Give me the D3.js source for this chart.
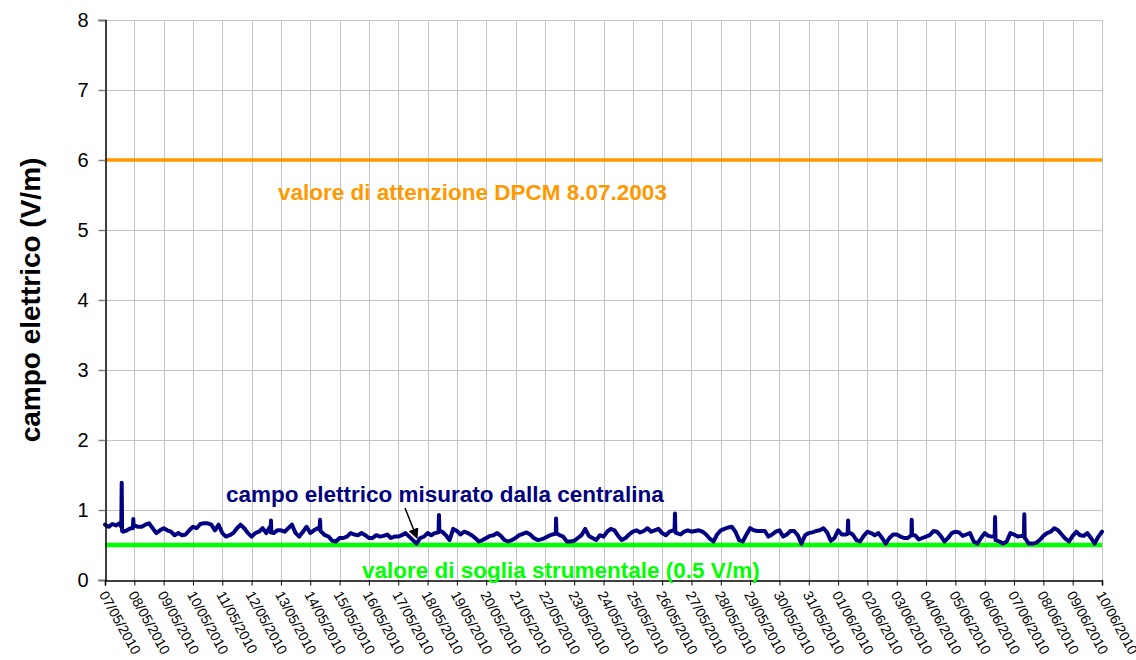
<!DOCTYPE html>
<html>
<head>
<meta charset="utf-8">
<script src="https://cdn.jsdelivr.net/npm/d3@7"></script>
<style>
  html, body { margin: 0; padding: 0; background: #fff; }
  svg { display: block; font-family: "Liberation Sans", Arial, sans-serif; }
</style>
</head>
<body>
<svg id="chart" width="1136" height="660"></svg>
<script>
// ---------------- data ----------------
const startTime = "2010-05-07T00:00Z";
const endTime = "2010-06-10T00:00Z";
const stepHours = 3;
// electric field measured by the station (V/m), every 3 hours
const fieldValues = [
  0.79,0.76,0.80,0.78,0.81,0.69,0.71,0.74,
  0.78,0.76,0.76,0.79,0.81,0.74,0.67,0.71,
  0.74,0.71,0.69,0.64,0.67,0.64,0.65,0.71,
  0.76,0.74,0.80,0.81,0.81,0.79,0.71,0.79,
  0.67,0.62,0.64,0.67,0.74,0.79,0.74,0.67,
  0.62,0.67,0.69,0.74,0.67,0.76,0.67,0.71,
  0.71,0.69,0.74,0.79,0.67,0.62,0.69,0.76,
  0.67,0.71,0.74,0.69,0.64,0.62,0.56,0.55,
  0.60,0.60,0.62,0.67,0.65,0.64,0.67,0.64,
  0.60,0.60,0.64,0.62,0.63,0.65,0.60,0.62,
  0.62,0.64,0.67,0.62,0.57,0.52,0.60,0.62,
  0.67,0.64,0.67,0.68,0.69,0.64,0.57,0.73,
  0.70,0.65,0.69,0.67,0.64,0.60,0.55,0.57,
  0.60,0.63,0.64,0.67,0.63,0.57,0.55,0.57,
  0.60,0.64,0.66,0.68,0.65,0.60,0.57,0.58,
  0.60,0.63,0.65,0.67,0.64,0.62,0.55,0.55,
  0.56,0.60,0.64,0.73,0.63,0.60,0.57,0.64,
  0.62,0.69,0.73,0.71,0.63,0.57,0.60,0.65,
  0.69,0.71,0.68,0.70,0.74,0.69,0.71,0.73,
  0.67,0.64,0.69,0.71,0.67,0.65,0.69,0.71,
  0.69,0.70,0.71,0.69,0.65,0.59,0.55,0.65,
  0.71,0.73,0.75,0.76,0.69,0.57,0.55,0.65,
  0.74,0.71,0.70,0.70,0.70,0.62,0.65,0.69,
  0.71,0.62,0.65,0.70,0.70,0.64,0.52,0.64,
  0.67,0.68,0.70,0.71,0.74,0.68,0.56,0.60,
  0.71,0.65,0.65,0.68,0.65,0.57,0.55,0.63,
  0.69,0.67,0.64,0.67,0.60,0.52,0.60,0.65,
  0.65,0.62,0.60,0.60,0.64,0.64,0.58,0.60,
  0.62,0.64,0.70,0.69,0.63,0.55,0.60,0.67,
  0.69,0.68,0.63,0.65,0.67,0.55,0.52,0.60,
  0.67,0.63,0.62,0.57,0.55,0.52,0.55,0.67,
  0.65,0.62,0.63,0.60,0.52,0.52,0.53,0.57,
  0.63,0.67,0.69,0.74,0.71,0.65,0.59,0.55,
  0.63,0.69,0.64,0.63,0.67,0.60,0.52,0.62,
  0.69
];
// short peaks: [time, value 20 min before, peak, value 20 min after]
const spikes = [
  ["2010-05-07T13:40Z", 0.76, 1.39, 0.70],
  ["2010-05-07T23:10Z", 0.74, 0.87, 0.76],
  ["2010-05-12T15:50Z", 0.68, 0.85, 0.68],
  ["2010-05-14T08:00Z", 0.72, 0.86, 0.70],
  ["2010-05-18T09:20Z", 0.68, 0.93, 0.70],
  ["2010-05-22T09:10Z", 0.66, 0.88, 0.67],
  ["2010-05-26T10:30Z", 0.72, 0.95, 0.68],
  ["2010-06-01T08:10Z", 0.66, 0.85, 0.67],
  ["2010-06-03T12:15Z", 0.64, 0.86, 0.64],
  ["2010-06-06T08:30Z", 0.62, 0.90, 0.57],
  ["2010-06-07T08:25Z", 0.63, 0.94, 0.60]
];
const attentionValue = 6;     // valore di attenzione DPCM 8.07.2003
const thresholdValue = 0.5;   // valore di soglia strumentale
const yTicks = [0,1,2,3,4,5,6,7,8];
const yTitle = "campo elettrico (V/m)";
const attentionLabel = "valore di attenzione DPCM 8.07.2003";
const thresholdLabel = "valore di soglia strumentale (0.5 V/m)";
const seriesLabel = "campo elettrico misurato dalla centralina";

// ---------------- build ----------------
const parse = d3.isoParse;
const t0 = parse(startTime);
const points = fieldValues.map((v, i) => ({ t: new Date(+t0 + i * stepHours * 3600e3), v }));
spikes.forEach(([ts, b, p, a]) => {
  const t = parse(ts);
  points.push({ t: new Date(+t - 20 * 60e3), v: b });
  points.push({ t: t, v: p });
  points.push({ t: new Date(+t + 20 * 60e3), v: a });
});
points.sort((a, b) => a.t - b.t);

const L = 105, R = 1102, T = 20, B = 580;
const svg = d3.select("#chart");
const x = d3.scaleUtc().domain([parse(startTime), parse(endTime)]).range([L, R]);
const y = d3.scaleLinear().domain([0, 8]).range([B, T]);
const days = d3.utcDay.range(parse(startTime), new Date(+parse(endTime) + 1));

// grid
const grid = svg.append("g").attr("stroke", "#c4c4c4").attr("stroke-width", 1);
grid.selectAll(".hg").data(yTicks.slice(1)).join("line")
  .attr("x1", L).attr("x2", R)
  .attr("y1", d => Math.round(y(d)) + 0.5).attr("y2", d => Math.round(y(d)) + 0.5);
grid.selectAll(".vg").data(days.slice(1)).join("line")
  .attr("x1", d => Math.round(x(d)) + 0.5).attr("x2", d => Math.round(x(d)) + 0.5)
  .attr("y1", T).attr("y2", B);

// reference lines
svg.append("line").attr("x1", L).attr("x2", R)
  .attr("y1", y(attentionValue)).attr("y2", y(attentionValue))
  .attr("stroke", "#ff9900").attr("stroke-width", 3.5);
svg.append("line").attr("x1", L).attr("x2", R)
  .attr("y1", y(thresholdValue)).attr("y2", y(thresholdValue))
  .attr("stroke", "#00ff00").attr("stroke-width", 4.5);

// series
svg.append("path").datum(points)
  .attr("fill", "none").attr("stroke", "#000080").attr("stroke-width", 4)
  .attr("stroke-linejoin", "round").attr("stroke-linecap", "round")
  .attr("d", d3.line().x(d => x(d.t)).y(d => y(d.v)));

// axes
const yAxis = svg.append("g").attr("transform", `translate(${L + 0.5},0)`)
  .call(d3.axisLeft(y).tickValues(yTicks).tickSize(7).tickPadding(10).tickFormat(d3.format("d")));
yAxis.select(".domain").attr("stroke", "#000").attr("stroke-width", 1.5);
yAxis.selectAll(".tick line").attr("stroke", "#808080").attr("stroke-width", 1.5);
yAxis.selectAll(".tick text").attr("font-size", 20).attr("fill", "#000")
  .attr("font-family", "Liberation Sans, Arial, sans-serif");

const xAxis = svg.append("g").attr("transform", `translate(0,${B + 0.5})`)
  .call(d3.axisBottom(x).tickValues(days).tickSize(5).tickFormat(""));
xAxis.select(".domain").attr("stroke", "#000").attr("stroke-width", 1.5);
xAxis.selectAll(".tick line").attr("stroke", "#000");

const fmt = d3.utcFormat("%d/%m/%Y");
svg.append("g").selectAll("text").data(days).join("text")
  .attr("transform", d => `translate(${x(d) - 2},${B + 12}) rotate(61)`)
  .attr("dy", "0.35em")
  .attr("font-size", 14).attr("fill", "#000")
  .text(d => fmt(d));

// y title
svg.append("text")
  .attr("transform", `translate(40,${(T + B) / 2}) rotate(-90)`)
  .attr("text-anchor", "middle").attr("font-size", 28).attr("font-weight", "bold")
  .text(yTitle);

// labels
svg.append("text").attr("x", 278).attr("y", 200)
  .attr("font-size", 22.5).attr("font-weight", "bold").attr("fill", "#ff9900")
  .text(attentionLabel);
svg.append("text").attr("x", 226).attr("y", 502)
  .attr("font-size", 22.5).attr("font-weight", "bold").attr("fill", "#000080")
  .text(seriesLabel);
svg.append("text").attr("x", 362).attr("y", 578)
  .attr("font-size", 22.5).attr("font-weight", "bold").attr("fill", "#00ff00")
  .text(thresholdLabel);

// arrow
svg.append("defs").append("marker").attr("id", "ah")
  .attr("viewBox", "0 0 10 10").attr("refX", 9).attr("refY", 5)
  .attr("markerWidth", 7).attr("markerHeight", 7).attr("orient", "auto")
  .append("path").attr("d", "M0,0 L10,5 L0,10 z").attr("fill", "#000");
svg.append("line").attr("x1", 405).attr("y1", 508).attr("x2", 417).attr("y2", 538)
  .attr("stroke", "#000").attr("stroke-width", 1.5).attr("marker-end", "url(#ah)");
</script>
</body>
</html>
